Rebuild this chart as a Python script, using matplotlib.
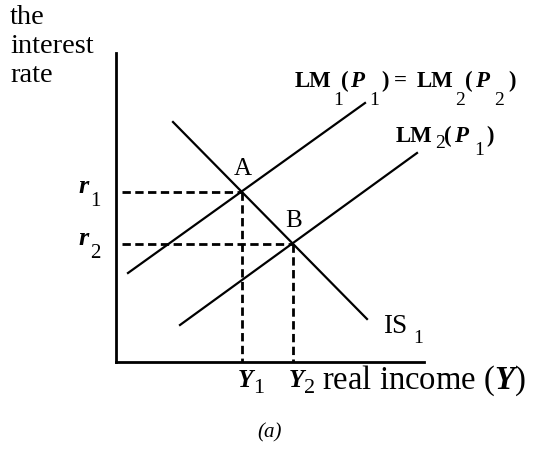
import matplotlib
matplotlib.use('Agg')
import matplotlib.pyplot as plt
from matplotlib.transforms import offset_copy

plt.rcParams['font.family'] = 'Liberation Serif'
plt.rcParams['mathtext.fontset'] = 'custom'
plt.rcParams['mathtext.rm'] = 'Liberation Serif'
plt.rcParams['mathtext.sf'] = 'Liberation Serif:italic:bold'

# curves (end points, in diagram units: origin at the axes corner)
lm1_x = [12, 249]
lm1_y = [89, 259]
lm2_x = [64, 301]
lm2_y = [37, 209]
is_x = [57, 251]
is_y = [240, 43]

# equilibria A and B
eq_y = [126, 177]   # Y1, Y2
eq_r = [170, 118]   # r1, r2
eq_names = ['A', 'B']

axis_len_x = 308
axis_len_y = 309

fig = plt.figure(figsize=(5.35, 4.55), dpi=100)
ax = fig.add_axes([0, 0, 1, 1])
ax.set_xlim(-116, 419)
ax.set_ylim(-93, 362)
ax.axis('off')

B = dict(fontweight='bold')
BI = dict(fontweight='bold', fontstyle='italic')
R = dict()


def label(x, y, parts, size=16.5, sub=14):
    # parts: (dx pixels, drop pixels, text, style); drop>0 means subscript
    for dx, dy, txt, st in parts:
        tr = offset_copy(ax.transData, fig=fig, x=dx, y=-dy, units='dots')
        ax.text(x, y, txt, transform=tr, ha='left', va='baseline',
                fontsize=sub if dy else size, **st)


# axes
ax.plot([0, 0], [0, axis_len_y], color='black', lw=2)
ax.plot([0, axis_len_x], [0, 0], color='black', lw=2)

# curves
ax.plot(lm1_x, lm1_y, color='black', lw=1.6)
ax.plot(lm2_x, lm2_y, color='black', lw=1.6)
ax.plot(is_x, is_y, color='black', lw=1.6)

# dashed guides
for yv, rv in zip(eq_y, eq_r):
    ax.plot([6, yv], [rv, rv], color='black', lw=2, ls=(0, (3, 1.6)))
    ax.plot([yv, yv], [rv, 0], color='black', lw=2, ls=(0, (3, 1.6)))

# y axis title
for i, w in enumerate(['the', 'interest', 'rate']):
    ax.text(-106, 338 - 29 * i, w, ha='left', va='baseline', fontsize=20.5)

# curve labels
label(179, 275, [(0, 0, 'LM', B), (38, 18, '1', R), (46, 0, '(', B),
                 (55, 0, 'P', BI), (74, 18, '1', R), (86, 0, ')', B),
                 (99, 0, '=', B), (122, 0, 'LM', B), (160, 18, '2', R),
                 (170, 0, '(', B), (180, 0, 'P', BI), (199, 18, '2', R),
                 (213, 0, ')', B)])
label(280, 220, [(0, 0, 'LM', B), (39, 6, '2', R), (48, 0, '(', B),
                 (58, 0, 'P', BI), (78, 13, '1', R), (90, 0, ')', B)])
label(267, 29, [(0, 0, 'IS', R), (30, 10, '1', R)], size=19.5, sub=14)

for yv, rv, nm in zip(eq_y, eq_r, eq_names):
    ax.text(yv + 1, rv + 17, nm, ha='center', va='baseline', fontsize=18)

for i, (yv, rv) in enumerate(zip(eq_y, eq_r)):
    label(-38, rv - 1, [(0, 0, 'r', BI), (12, 13, str(i + 1), R)],
          size=19, sub=15)
    label(yv - 4, -25, [(0, 0, 'Y', BI), (15, 6, str(i + 1), R)],
          size=18, sub=16)

ax.text(206, -27, r'real income ($\mathsf{Y}$)', ha='left', va='baseline',
        fontsize=23.5)
ax.text(154, -75, '(a)', ha='center', va='baseline', fontsize=15,
        fontstyle='italic')

fig.savefig('out.png', dpi=100)
